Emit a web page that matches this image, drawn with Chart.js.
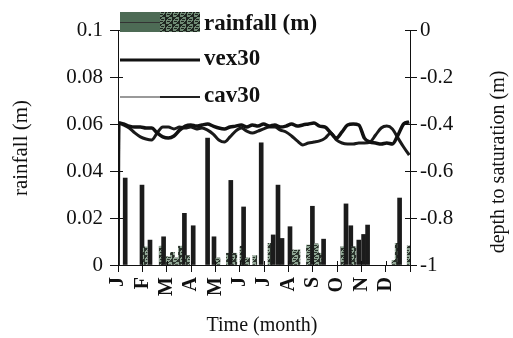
<!DOCTYPE html>
<html>
<head>
<meta charset="utf-8">
<script src="https://cdn.jsdelivr.net/npm/chart.js@4.4.1/dist/chart.umd.min.js"></script>
<style>
  html, body { margin: 0; padding: 0; background: #fff; }
  #wrap { width: 513px; height: 338px; }
</style>
</head>
<body>
<div id="wrap"><canvas id="chart" width="513" height="338"></canvas></div>
<script>
const monthLabels = ["J", "F", "M", "A", "M", "J", "J", "A", "S", "O", "N", "D"];

// daily rainfall (m), day of year
const rainDays = [9, 30, 34, 40, 54, 57, 62, 68, 73, 78, 83, 87, 94, 112, 120, 125, 138, 141, 146, 155,
  157, 162, 171, 179, 190, 194, 200, 205, 215, 220, 225, 238, 243, 248, 252, 257, 281, 285, 291, 295,
  301, 307, 312, 345, 349, 352, 364];
const rainValues = [0.037, 0.034, 0.0077, 0.0106, 0.008, 0.012, 0.0035, 0.0054, 0.003, 0.008, 0.022, 0.004,
  0.0167, 0.054, 0.012, 0.003, 0.005, 0.036, 0.005, 0.008, 0.0247, 0.003, 0.004, 0.052, 0.0092, 0.0128,
  0.034, 0.0113, 0.0163, 0.0064, 0.0064, 0.0085, 0.025, 0.009, 0.005, 0.011, 0.0078, 0.026, 0.0167,
  0.0078, 0.0106, 0.013, 0.017, 0.002, 0.0092, 0.0285, 0.0081];

// depth to saturation (m)
const depthDays = [0, 1, 7, 14, 21, 28, 35, 42, 49, 56, 63, 70, 77, 84, 91, 98, 105, 112, 119, 126, 133,
  140, 147, 154, 161, 168, 175, 182, 189, 196, 203, 210, 217, 224, 231, 238, 245, 252, 259, 266, 273,
  280, 287, 294, 301, 308, 315, 322, 329, 336, 343, 350, 357, 364];
const vex30 = [-1, -0.396, -0.4, -0.409, -0.413, -0.413, -0.417, -0.417, -0.438, -0.455, -0.46, -0.451,
  -0.426, -0.409, -0.404, -0.409, -0.404, -0.4, -0.409, -0.417, -0.421, -0.413, -0.409, -0.404, -0.413,
  -0.404, -0.409, -0.4, -0.409, -0.404, -0.413, -0.409, -0.4, -0.409, -0.404, -0.4, -0.396, -0.409,
  -0.413, -0.438, -0.46, -0.434, -0.404, -0.4, -0.404, -0.46, -0.477, -0.481, -0.485, -0.481, -0.485,
  -0.447, -0.4, -0.391];
const cav30 = [-1, -0.396, -0.404, -0.417, -0.438, -0.455, -0.464, -0.468, -0.438, -0.413, -0.413, -0.421,
  -0.413, -0.417, -0.413, -0.421, -0.417, -0.426, -0.443, -0.468, -0.477, -0.455, -0.43, -0.417, -0.43,
  -0.438, -0.43, -0.421, -0.413, -0.413, -0.426, -0.434, -0.451, -0.472, -0.489, -0.481, -0.477, -0.472,
  -0.46, -0.438, -0.468, -0.481, -0.485, -0.485, -0.481, -0.481, -0.477, -0.447, -0.417, -0.409, -0.421,
  -0.46, -0.498, -0.532];

const serif = "'Liberation Serif', 'Times New Roman', serif";
const ink = "#111";

// speckled fill like the printed bar pattern
function makeSpeckle(base, dot) {
  const c = document.createElement("canvas");
  c.width = 7;
  c.height = 7;
  const g = c.getContext("2d");
  g.fillStyle = base;
  g.fillRect(0, 0, 7, 7);
  g.fillStyle = dot;
  for (let i = 0; i < 7; i++) {
    for (let j = 0; j < 7; j++) {
      if ((i * i + j * 3 + i * j) % 7 < 3) g.fillRect(i, j, 1, 1);
    }
  }
  return g.createPattern(c, "repeat");
}

const canvas = document.getElementById("chart");
const ctx = canvas.getContext("2d");
const speckle = makeSpeckle("#8fa593", "#2b332c");
const speckleDark = makeSpeckle("#6f8a74", "#1e241f");

const toPoints = (xs, ys) => xs.map((x, i) => ({ x: x, y: ys[i] }));

const extras = {
  id: "extras",
  afterDraw(chart) {
    const c = chart.ctx;
    const a = chart.chartArea;
    const sx = chart.scales.x, sy = chart.scales.y, sy2 = chart.scales.y2;
    c.save();
    // inner halves of the crossing tick marks
    c.strokeStyle = ink;
    c.lineWidth = 1;
    c.beginPath();
    sy.ticks.forEach((t) => {
      const p = Math.round(sy.getPixelForValue(t.value)) + 0.5;
      c.moveTo(a.left, p);
      c.lineTo(a.left + 5, p);
    });
    sy2.ticks.forEach((t) => {
      const p = Math.round(sy2.getPixelForValue(t.value)) + 0.5;
      c.moveTo(a.right, p);
      c.lineTo(a.right - 5, p);
    });
    sx.ticks.forEach((t) => {
      const p = Math.round(sx.getPixelForValue(t.value)) + 0.5;
      c.moveTo(p, a.bottom);
      c.lineTo(p, a.bottom - 4);
    });
    c.stroke();

    // axis titles
    c.fillStyle = ink;
    c.textAlign = "center";
    c.textBaseline = "middle";
    c.font = "21px " + serif;
    c.save();
    c.translate(21, 148);
    c.rotate(-Math.PI / 2);
    c.fillText("rainfall (m)", 0, 0);
    c.restore();
    c.save();
    c.translate(499, 162);
    c.rotate(-Math.PI / 2);
    c.font = "20px " + serif;
    c.fillText("depth to saturation (m)", 0, 0);
    c.restore();
    c.font = "20px " + serif;
    c.fillText("Time (month)", 262, 326);

    // legend, overlapping the top of the plot
    const ds = chart.data.datasets;
    c.fillStyle = "#4d6b55";
    c.fillRect(120, 12, 40, 20);
    c.fillStyle = speckleDark;
    c.fillRect(160, 12, 40, 20);
    c.strokeStyle = "#333";
    c.lineWidth = 1;
    c.beginPath();
    c.moveTo(120, 22.5);
    c.lineTo(160, 22.5);
    c.stroke();

    c.strokeStyle = ink;
    c.lineWidth = 3;
    c.beginPath();
    c.moveTo(120, 60);
    c.lineTo(200, 60);
    c.stroke();

    c.strokeStyle = "#777";
    c.lineWidth = 1.5;
    c.beginPath();
    c.moveTo(120, 97);
    c.lineTo(160, 97);
    c.stroke();
    c.strokeStyle = "#222";
    c.lineWidth = 2;
    c.beginPath();
    c.moveTo(160, 97);
    c.lineTo(200, 97);
    c.stroke();

    c.fillStyle = ink;
    c.textAlign = "left";
    c.font = "bold 23px " + serif;
    c.fillText(ds[0].label, 204, 24);
    c.fillText(ds[1].label, 204, 59);
    c.fillText(ds[2].label, 204, 96);
    c.restore();
  },
};

new Chart(ctx, {
  type: "bar",
  data: {
    datasets: [
      {
        type: "bar",
        label: "rainfall (m)",
        data: toPoints(rainDays, rainValues),
        xAxisID: "x",
        yAxisID: "y",
        barThickness: 4,
        grouped: false,
        borderWidth: 0,
        backgroundColor: (c) => (c.raw && c.raw.y >= 0.01 ? "#1b1b1b" : speckle),
        order: 3,
      },
      {
        type: "line",
        label: "vex30",
        data: toPoints(depthDays, vex30),
        xAxisID: "x",
        yAxisID: "y2",
        borderColor: ink,
        borderWidth: 3.5,
        pointRadius: 0,
        cubicInterpolationMode: "monotone",
        order: 1,
      },
      {
        type: "line",
        label: "cav30",
        data: toPoints(depthDays, cav30),
        xAxisID: "x",
        yAxisID: "y2",
        borderColor: "#1a1a1a",
        borderWidth: 3,
        pointRadius: 0,
        cubicInterpolationMode: "monotone",
        order: 2,
      },
    ],
  },
  options: {
    responsive: false,
    animation: false,
    layout: { padding: { top: 30, left: 0, right: 0, bottom: 0 } },
    plugins: {
      legend: { display: false },
      tooltip: { enabled: false },
    },
    scales: {
      x: {
        type: "linear",
        offset: false,
        min: 0,
        max: 365,
        afterBuildTicks: (s) => {
          s.ticks = monthLabels.concat([""]).map((_, i) => ({ value: (i * 365) / 12 }));
        },
        afterFit: (s) => {
          s.height = 73;
        },
        ticks: {
          autoSkip: false,
          minRotation: 90,
          maxRotation: 90,
          padding: 5,
          color: ink,
          font: { family: serif, size: 20, weight: "bold" },
          callback: (v, i) => monthLabels[i] || "",
        },
        grid: { offset: false, drawOnChartArea: false, drawTicks: true, tickLength: 7, color: ink },
        border: { display: true, color: ink, width: 1 },
      },
      y: {
        position: "left",
        min: 0,
        max: 0.1,
        afterFit: (s) => {
          s.width = 118;
        },
        ticks: {
          stepSize: 0.02,
          padding: 7,
          color: ink,
          font: { family: serif, size: 21 },
          callback: (v) => String(+v.toFixed(2)),
        },
        grid: { drawOnChartArea: false, drawTicks: true, tickLength: 8, color: ink },
        border: { display: true, color: ink, width: 1 },
      },
      y2: {
        position: "right",
        min: -1,
        max: 0,
        afterFit: (s) => {
          s.width = 103;
        },
        ticks: {
          stepSize: 0.2,
          padding: 3,
          color: ink,
          font: { family: serif, size: 21 },
          callback: (v) => String(+v.toFixed(1)),
        },
        grid: { drawOnChartArea: false, drawTicks: true, tickLength: 7, color: ink },
        border: { display: true, color: ink, width: 1 },
      },
    },
  },
  plugins: [extras],
});
</script>
</body>
</html>
